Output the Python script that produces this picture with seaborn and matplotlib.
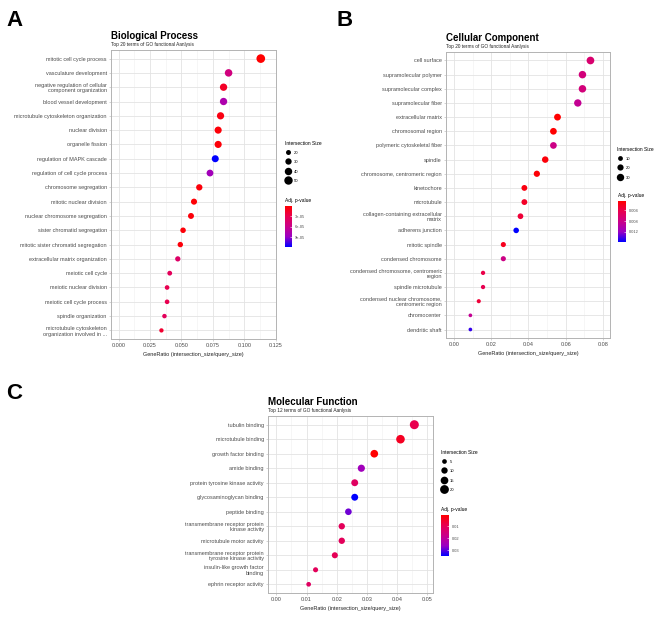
import numpy as np
import pandas as pd
import seaborn as sns
import matplotlib.pyplot as plt
from matplotlib.colors import LinearSegmentedColormap, Normalize
from matplotlib.cm import ScalarMappable
from matplotlib.lines import Line2D
from matplotlib.ticker import MultipleLocator

# ---- Biological Process ----
bp_terms = ["mitotic cell cycle process", "vasculature development",
            "negative regulation of cellular\ncomponent organization",
            "blood vessel development", "microtubule cytoskeleton organization",
            "nuclear division", "organelle fission", "regulation of MAPK cascade",
            "regulation of cell cycle process", "chromosome segregation",
            "mitotic nuclear division", "nuclear chromosome segregation",
            "sister chromatid segregation", "mitotic sister chromatid segregation",
            "extracellular matrix organization", "meiotic cell cycle",
            "meiotic nuclear division", "meiotic cell cycle process",
            "spindle organization",
            "microtubule cytoskeleton\norganization involved in ..."]
bp_ratio = [0.1131, 0.0875, 0.0835, 0.0835, 0.0811, 0.0792, 0.0792, 0.0769, 0.0727, 0.0642,
            0.0600, 0.0576, 0.0513, 0.0491, 0.0471, 0.0407, 0.0386, 0.0386, 0.0365, 0.0341]
bp_size = [53, 41, 39, 39, 38, 37, 37, 36, 34, 30, 28, 27, 24, 23, 22, 19, 18, 18, 17, 16]
bp_padj = [1e-7, 5.3e-5, 1.4e-5, 7.7e-5, 7e-6, 3e-6, 3e-6, 1.18e-4, 8.3e-5, 4e-6,
           2e-6, 4e-6, 3e-6, 4e-6, 4.1e-5, 3.5e-5, 3e-5, 3e-5, 3.5e-5, 1.8e-5]

# ---- Cellular Component ----
cc_terms = ["cell surface", "supramolecular polymer", "supramolecular complex",
            "supramolecular fiber", "extracellular matrix", "chromosomal region",
            "polymeric cytoskeletal fiber", "spindle", "chromosome, centromeric region",
            "kinetochore", "microtubule", "collagen-containing extracellular\nmatrix",
            "adherens junction", "mitotic spindle", "condensed chromosome",
            "condensed chromosome, centromeric\nregion", "spindle microtubule",
            "condensed nuclear chromosome,\ncentromeric region", "chromocenter",
            "dendritic shaft"]
cc_ratio = [0.0733, 0.0690, 0.0690, 0.0665, 0.0556, 0.0534, 0.0534, 0.0490, 0.0445, 0.0378,
            0.0378, 0.0357, 0.0334, 0.0265, 0.0265, 0.0156, 0.0156, 0.0133, 0.0088, 0.0088]
cc_size = [33, 31, 31, 30, 25, 24, 24, 22, 20, 17, 17, 16, 15, 12, 12, 7, 7, 6, 4, 4]
cc_padj = [0.0063, 0.0071, 0.0071, 0.0087, 0.0005, 0.0006, 0.0079, 0.0010, 0.0008, 0.0013,
           0.0024, 0.0032, 0.0158, 0.0019, 0.0079, 0.0040, 0.0044, 0.0032, 0.0087, 0.0145]

# ---- Molecular Function ----
mf_terms = ["tubulin binding", "microtubule binding", "growth factor binding", "amide binding",
            "protein tyrosine kinase activity", "glycosaminoglycan binding", "peptide binding",
            "transmembrane receptor protein\nkinase activity", "microtubule motor activity",
            "transmembrane receptor protein\ntyrosine kinase activity",
            "insulin-like growth factor\nbinding", "ephrin receptor activity"]
mf_ratio = [0.0458, 0.0412, 0.0325, 0.0282, 0.0260, 0.0260, 0.0239, 0.0217, 0.0217, 0.0194,
            0.0130, 0.0107]
mf_size = [21, 19, 15, 13, 12, 12, 11, 10, 10, 9, 6, 5]
mf_padj = [0.0088, 0.0040, 0.0003, 0.0250, 0.0115, 0.0350, 0.0287, 0.0105, 0.0105, 0.0098,
           0.0105, 0.0115]

W, H = 669, 619
plt.rcParams['font.family'] = ['Liberation Sans', 'DejaVu Sans']

# red -> blue gradient (Lab-like midpoints)
cmap = LinearSegmentedColormap.from_list(
    "padj", ["#FF0000", "#E80050", "#CA0089", "#9A00C3", "#0000FF"])

fig = plt.figure(figsize=(W / 100, H / 100), dpi=100)


def fx(x):
    return x / W


def fy(y):
    return 1 - y / H


def panel(box, terms, ratio, isize, padj, title, subtitle, xlim, xstep, xfmt,
          srange, leg_vals, leg_xy, cbar_box, cbar_ticks, cbar_labels):
    l, t, r, b = box
    ax = fig.add_axes([fx(l), fy(b), (r - l) / W, (b - t) / H])
    df = pd.DataFrame({"term": terms, "ratio": ratio, "size": isize, "padj": padj})
    hnorm = (min(padj), max(padj))
    snorm = (min(isize), max(isize))
    sns.scatterplot(data=df, x="ratio", y="term", hue="padj", size="size",
                    palette=cmap, hue_norm=hnorm, sizes=srange, size_norm=snorm,
                    edgecolor="none", legend=False, ax=ax, zorder=3)
    n = len(terms)
    ax.set_ylim(n - 1 + 0.6, -0.6)
    ax.set_xlim(*xlim)
    ax.xaxis.set_major_locator(MultipleLocator(xstep))
    ax.xaxis.set_minor_locator(MultipleLocator(xstep / 2))
    ax.xaxis.set_major_formatter(xfmt)
    ax.set_axisbelow(True)
    ax.grid(which="major", color="#E3E3E3", lw=0.6)
    ax.grid(which="minor", axis="x", color="#EFEFEF", lw=0.4)
    for s in ax.spines.values():
        s.set_color("#B3B3B3")
        s.set_linewidth(0.7)
    ax.tick_params(which="major", length=1.5, width=0.4, color="#B3B3B3",
                   labelsize=4.0, labelcolor="#4D4D4D", pad=1.5)
    ax.tick_params(which="minor", length=0)
    ax.set_ylabel("")
    ax.set_xlabel("GeneRatio (intersection_size/query_size)", fontsize=4.0,
                  color="#222222", labelpad=2.5)
    for lab in ax.get_yticklabels():
        lab.set_multialignment("right")
        lab.set_linespacing(1.15)

    # titles
    fig.text(fx(l), fy(t - 11), title, fontsize=7, weight="bold", va="baseline")
    fig.text(fx(l), fy(t - 4), subtitle, fontsize=3.4, va="baseline", color="#222222")

    # size legend
    smin, smax = srange
    handles = []
    for v in leg_vals:
        s = smin + (v - snorm[0]) / (snorm[1] - snorm[0]) * (smax - smin)
        handles.append(Line2D([], [], marker="o", ls="", color="black",
                              markeredgewidth=0, markersize=np.sqrt(s)))
    fig.legend(handles, [str(v) for v in leg_vals], title="Intersection Size",
               loc="upper left", bbox_to_anchor=(fx(leg_xy[0]), fy(leg_xy[1])),
               frameon=False, fontsize=3, title_fontsize=3.5, alignment="left",
               borderpad=0, borderaxespad=0, handlelength=1.6, handleheight=1.8,
               handletextpad=0.5, labelspacing=0.85)

    # colour bar
    cl, ct, cr, cb = cbar_box
    cax = fig.add_axes([fx(cl), fy(cb), (cr - cl) / W, (cb - ct) / H])
    sm = ScalarMappable(norm=Normalize(*hnorm), cmap=cmap)
    cbar = fig.colorbar(sm, cax=cax)
    cbar.outline.set_visible(False)
    cax.invert_yaxis()
    cbar.set_ticks(cbar_ticks)
    cbar.set_ticklabels(cbar_labels)
    cax.tick_params(length=1.5, width=0.4, color="white", direction="in",
                    labelsize=2.9, labelcolor="#4D4D4D", pad=2)
    fig.text(fx(cl), fy(ct - 4), "Adj. p-value", fontsize=3.5, va="baseline")
    return ax


panel((111, 50, 276, 339), bp_terms, bp_ratio, bp_size, bp_padj,
      "Biological Process", "Top 20 terms of GO functional Aanlysis",
      (-0.006, 0.1252), 0.025, "{x:.3f}", (9.6, 39), [20, 30, 40, 50], (285, 141),
      (285, 206, 292, 247), [3e-5, 6e-5, 9e-5], ["3e-05", "6e-05", "9e-05"])

panel((446, 52, 610, 338), cc_terms, cc_ratio, cc_size, cc_padj,
      "Cellular Component", "Top 20 terms of GO functional Aanlysis",
      (-0.0043, 0.0838), 0.02, "{x:.2f}", (7.1, 30.7), [10, 20, 30], (617, 147),
      (618, 201, 626, 242), [0.004, 0.008, 0.012], ["0.004", "0.008", "0.012"])

panel((268, 416, 433, 593), mf_terms, mf_ratio, mf_size, mf_padj,
      "Molecular Function", "Top 12 terms of GO functional Aanlysis",
      (-0.0028, 0.052), 0.01, "{x:.2f}", (11.4, 42), [5, 10, 15, 20], (441, 450),
      (441, 515, 449, 556), [0.01, 0.02, 0.03], ["0.01", "0.02", "0.03"])

for letter, x, y in [("A", 6, 26), ("B", 336, 26), ("C", 6, 399)]:
    fig.text(fx(x), fy(y), letter, fontsize=16, weight="bold", va="baseline")

fig.savefig("out.png", dpi=100)
